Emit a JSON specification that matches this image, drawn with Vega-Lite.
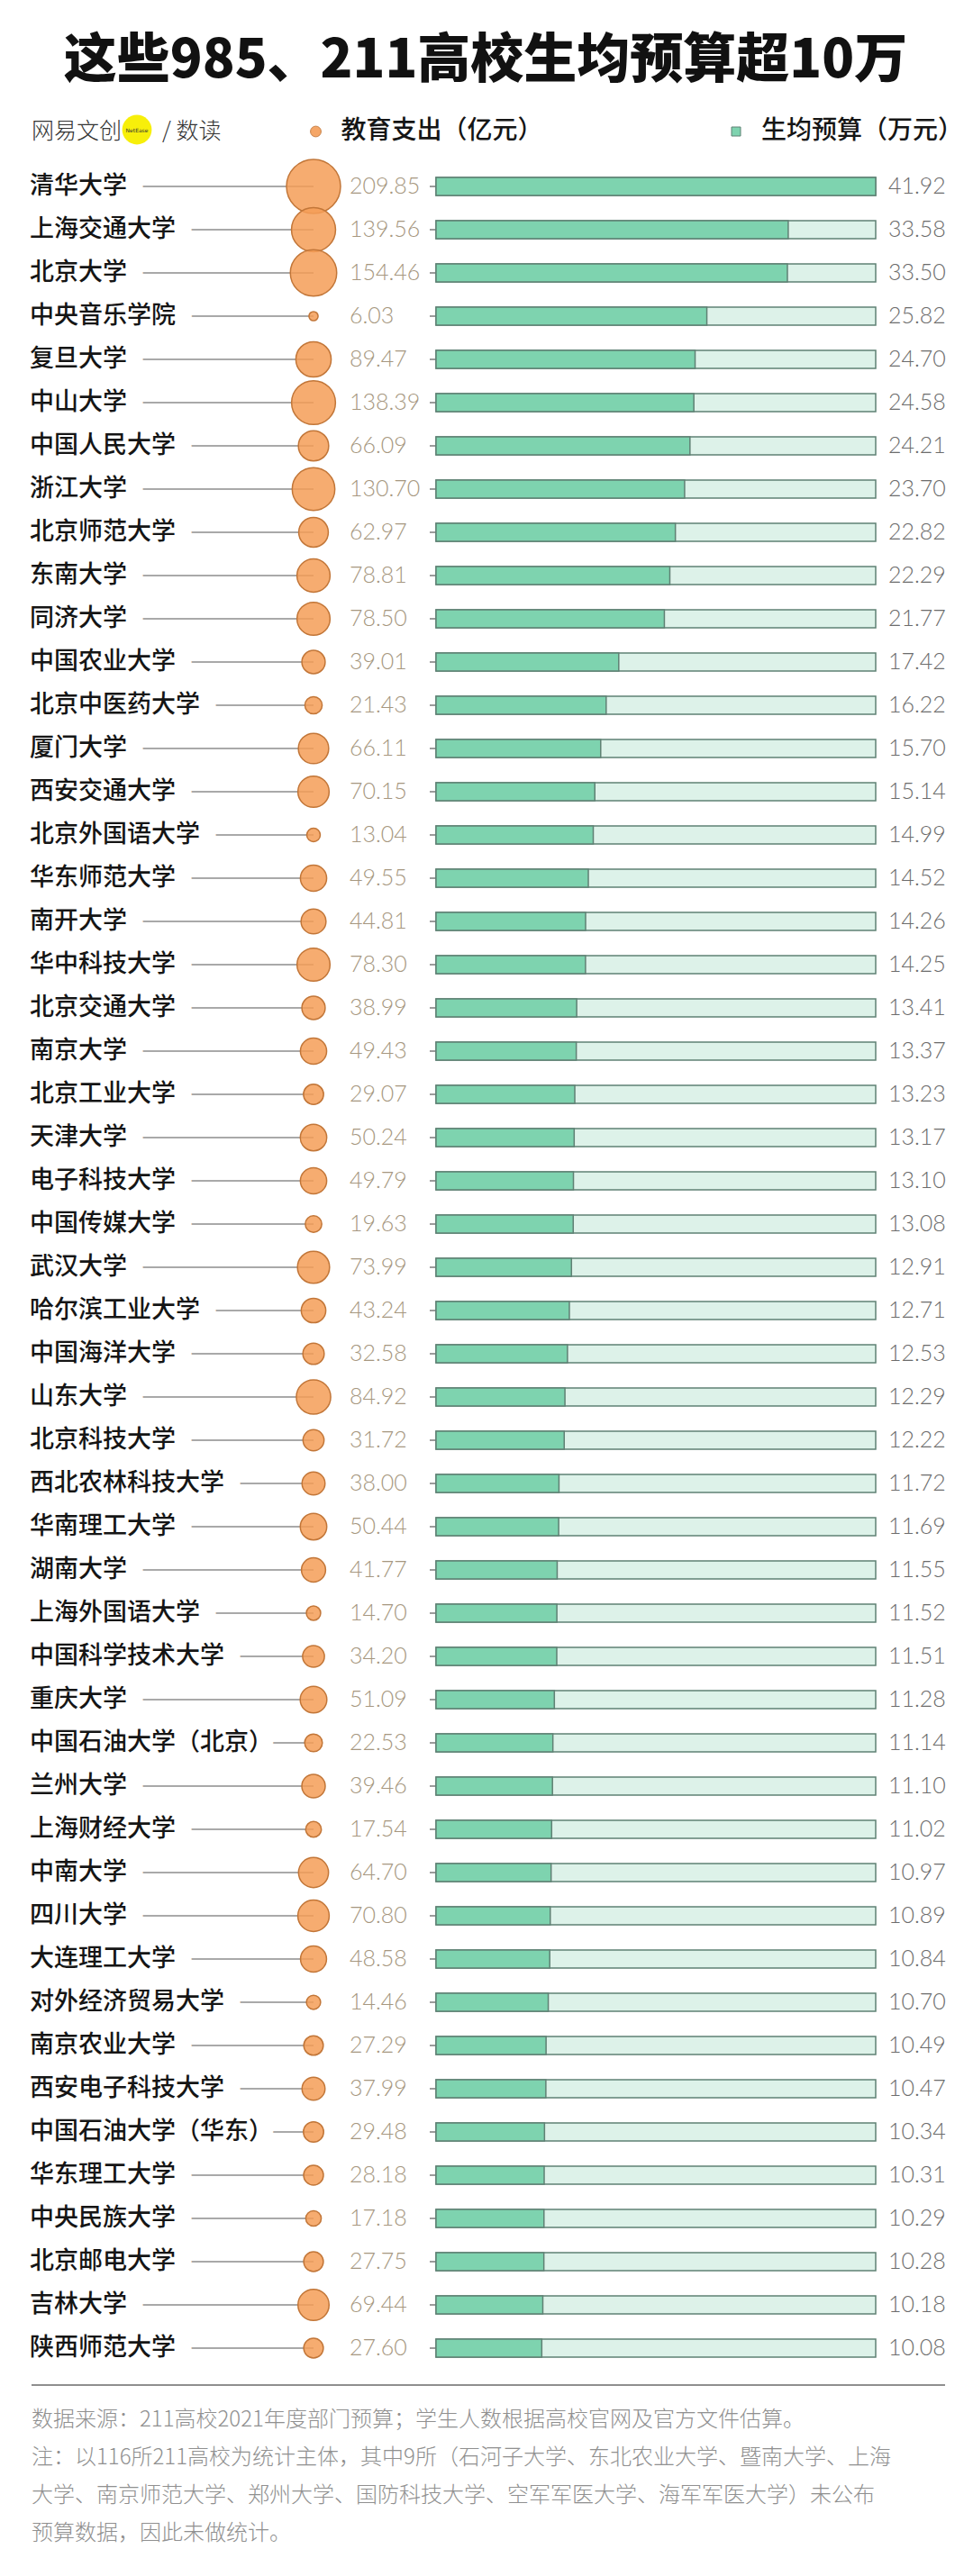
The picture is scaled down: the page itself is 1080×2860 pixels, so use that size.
{
  "$schema": "https://vega.github.io/schema/vega-lite/v6.json",
  "width": 1080,
  "height": 2860,
  "padding": 0,
  "autosize": {"type": "none"},
  "background": "#ffffff",
  "config": {"view": {"stroke": null}},
  "data": {"values": [
    {"name": "清华大学", "spend": 209.85, "budget": 41.92},
    {"name": "上海交通大学", "spend": 139.56, "budget": 33.58},
    {"name": "北京大学", "spend": 154.46, "budget": 33.50},
    {"name": "中央音乐学院", "spend": 6.03, "budget": 25.82},
    {"name": "复旦大学", "spend": 89.47, "budget": 24.70},
    {"name": "中山大学", "spend": 138.39, "budget": 24.58},
    {"name": "中国人民大学", "spend": 66.09, "budget": 24.21},
    {"name": "浙江大学", "spend": 130.70, "budget": 23.70},
    {"name": "北京师范大学", "spend": 62.97, "budget": 22.82},
    {"name": "东南大学", "spend": 78.81, "budget": 22.29},
    {"name": "同济大学", "spend": 78.50, "budget": 21.77},
    {"name": "中国农业大学", "spend": 39.01, "budget": 17.42},
    {"name": "北京中医药大学", "spend": 21.43, "budget": 16.22},
    {"name": "厦门大学", "spend": 66.11, "budget": 15.70},
    {"name": "西安交通大学", "spend": 70.15, "budget": 15.14},
    {"name": "北京外国语大学", "spend": 13.04, "budget": 14.99},
    {"name": "华东师范大学", "spend": 49.55, "budget": 14.52},
    {"name": "南开大学", "spend": 44.81, "budget": 14.26},
    {"name": "华中科技大学", "spend": 78.30, "budget": 14.25},
    {"name": "北京交通大学", "spend": 38.99, "budget": 13.41},
    {"name": "南京大学", "spend": 49.43, "budget": 13.37},
    {"name": "北京工业大学", "spend": 29.07, "budget": 13.23},
    {"name": "天津大学", "spend": 50.24, "budget": 13.17},
    {"name": "电子科技大学", "spend": 49.79, "budget": 13.10},
    {"name": "中国传媒大学", "spend": 19.63, "budget": 13.08},
    {"name": "武汉大学", "spend": 73.99, "budget": 12.91},
    {"name": "哈尔滨工业大学", "spend": 43.24, "budget": 12.71},
    {"name": "中国海洋大学", "spend": 32.58, "budget": 12.53},
    {"name": "山东大学", "spend": 84.92, "budget": 12.29},
    {"name": "北京科技大学", "spend": 31.72, "budget": 12.22},
    {"name": "西北农林科技大学", "spend": 38.00, "budget": 11.72},
    {"name": "华南理工大学", "spend": 50.44, "budget": 11.69},
    {"name": "湖南大学", "spend": 41.77, "budget": 11.55},
    {"name": "上海外国语大学", "spend": 14.70, "budget": 11.52},
    {"name": "中国科学技术大学", "spend": 34.20, "budget": 11.51},
    {"name": "重庆大学", "spend": 51.09, "budget": 11.28},
    {"name": "中国石油大学（北京）", "spend": 22.53, "budget": 11.14},
    {"name": "兰州大学", "spend": 39.46, "budget": 11.10},
    {"name": "上海财经大学", "spend": 17.54, "budget": 11.02},
    {"name": "中南大学", "spend": 64.70, "budget": 10.97},
    {"name": "四川大学", "spend": 70.80, "budget": 10.89},
    {"name": "大连理工大学", "spend": 48.58, "budget": 10.84},
    {"name": "对外经济贸易大学", "spend": 14.46, "budget": 10.70},
    {"name": "南京农业大学", "spend": 27.29, "budget": 10.49},
    {"name": "西安电子科技大学", "spend": 37.99, "budget": 10.47},
    {"name": "中国石油大学（华东）", "spend": 29.48, "budget": 10.34},
    {"name": "华东理工大学", "spend": 28.18, "budget": 10.31},
    {"name": "中央民族大学", "spend": 17.18, "budget": 10.29},
    {"name": "北京邮电大学", "spend": 27.75, "budget": 10.28},
    {"name": "吉林大学", "spend": 69.44, "budget": 10.18},
    {"name": "陕西师范大学", "spend": 27.60, "budget": 10.08}
  ]},
  "resolve": {"scale": {"fill": "independent"}, "legend": {"fill": "independent"}},
  "layer": [
    {
      "mark": {"type": "rule", "stroke": "#8c8c8c", "strokeWidth": 1.5},
      "encoding": {
        "x": {"value": 40},
        "x2": {"value": 348},
        "y": {"field": "name", "type": "nominal", "sort": null, "axis": null, "scale": {"type": "point", "range": [207, 2607], "padding": 0}}
      }
    },
    {
      "mark": {"type": "text", "align": "left", "baseline": "middle", "font": "Noto Sans CJK SC", "fontSize": 27, "fill": "#ffffff", "stroke": "#ffffff", "strokeWidth": 38, "strokeJoin": "round"},
      "encoding": {
        "x": {"value": 33},
        "y": {"field": "name", "type": "nominal", "sort": null},
        "text": {"field": "name"}
      }
    },
    {
      "mark": {"type": "text", "align": "left", "baseline": "middle", "font": "Noto Sans CJK SC", "fontSize": 27, "fontWeight": 500, "fill": "#151515"},
      "encoding": {
        "x": {"value": 33},
        "y": {"field": "name", "type": "nominal", "sort": null},
        "text": {"field": "name"}
      }
    },
    {
      "mark": {"type": "rule", "stroke": "#7a7a7a", "strokeWidth": 1.5},
      "encoding": {
        "x": {"value": 477},
        "x2": {"value": 485},
        "y": {"field": "name", "type": "nominal", "sort": null}
      }
    },
    {
      "mark": {"type": "bar", "height": 20, "fill": "#ddf2e9", "stroke": "#5f8174", "strokeWidth": 1.5},
      "encoding": {
        "x": {"datum": 0, "type": "quantitative", "axis": null, "scale": {"domain": [0, 41.92], "range": [484, 972]}},
        "x2": {"datum": 41.92},
        "y": {"field": "name", "type": "nominal", "sort": null}
      }
    },
    {
      "mark": {"type": "bar", "height": 20, "stroke": "#5f8174", "strokeWidth": 1.5, "fillOpacity": 1},
      "encoding": {
        "x": {"field": "budget", "type": "quantitative", "axis": null, "scale": {"domain": [0, 41.92], "range": [484, 972]}},
        "y": {"field": "name", "type": "nominal", "sort": null},
        "fill": {"datum": "生均预算（万元）", "scale": {"range": ["#7ed3af"]}, "legend": {"title": null, "orient": "none", "legendX": 803, "legendY": 132, "padding": 0, "symbolType": "square", "symbolSize": 100, "symbolStrokeColor": "#5f8174", "symbolStrokeWidth": 1, "labelOffset": 14, "labelFont": "Noto Sans CJK SC", "labelFontSize": 28, "labelFontWeight": 500, "labelColor": "#151515", "labelLimit": 500}}
      }
    },
    {
      "mark": {"type": "circle", "stroke": "#c27638", "strokeWidth": 1.5, "fillOpacity": 0.85, "opacity": 1},
      "encoding": {
        "x": {"value": 348},
        "y": {"field": "name", "type": "nominal", "sort": null},
        "size": {"field": "spend", "type": "quantitative", "legend": null, "scale": {"domain": [0, 209.85], "range": [0, 3600]}},
        "fill": {"datum": "教育支出（亿元）", "scale": {"range": ["#f59d57"]}, "legend": {"title": null, "orient": "none", "legendX": 336.5, "legendY": 132, "padding": 0, "symbolType": "circle", "symbolSize": 140, "symbolStrokeColor": "#c27638", "symbolStrokeWidth": 1, "symbolOpacity": 0.9, "labelOffset": 14, "labelFont": "Noto Sans CJK SC", "labelFontSize": 28, "labelFontWeight": 500, "labelColor": "#151515", "labelLimit": 500}}
      }
    },
    {
      "mark": {"type": "text", "align": "left", "baseline": "middle", "font": "Lato", "fontSize": 25, "fontWeight": 300, "fill": "#a69780"},
      "encoding": {
        "x": {"value": 388},
        "y": {"field": "name", "type": "nominal", "sort": null},
        "text": {"field": "spend", "type": "quantitative", "format": ".2f"}
      }
    },
    {
      "mark": {"type": "text", "align": "left", "baseline": "middle", "font": "Lato", "fontSize": 25, "fontWeight": 300, "fill": "#6c6c6c"},
      "encoding": {
        "x": {"value": 986},
        "y": {"field": "name", "type": "nominal", "sort": null},
        "text": {"field": "budget", "type": "quantitative", "format": ".2f"}
      }
    },
    {
      "data": {"values": [{"t": "这些985、211高校生均预算超10万"}]},
      "mark": {"type": "text", "align": "center", "baseline": "middle", "font": "Noto Sans CJK SC", "fontSize": 59, "fontWeight": 900, "fill": "#111111"},
      "encoding": {"x": {"value": 539}, "y": {"value": 68}, "text": {"field": "t"}}
    },
    {
      "data": {"values": [{}]},
      "mark": {"type": "circle", "fill": "#f7ef0a", "opacity": 1, "size": 1075},
      "encoding": {"x": {"value": 152}, "y": {"value": 144}}
    },
    {
      "data": {"values": [{"t": "网易文创"}]},
      "mark": {"type": "text", "align": "left", "baseline": "middle", "font": "Noto Sans CJK SC", "fontSize": 25, "fontWeight": 300, "fill": "#333333"},
      "encoding": {"x": {"value": 35}, "y": {"value": 146}, "text": {"field": "t"}}
    },
    {
      "data": {"values": [{"t": "NetEase"}]},
      "mark": {"type": "text", "align": "center", "baseline": "middle", "font": "DejaVu Sans", "fontSize": 6, "fill": "#333333"},
      "encoding": {"x": {"value": 152}, "y": {"value": 145}, "text": {"field": "t"}}
    },
    {
      "data": {"values": [{"t": "/ 数读"}]},
      "mark": {"type": "text", "align": "left", "baseline": "middle", "font": "Noto Sans CJK SC", "fontSize": 25, "fontWeight": 300, "fill": "#333333"},
      "encoding": {"x": {"value": 180}, "y": {"value": 146}, "text": {"field": "t"}}
    },
    {
      "data": {"values": [{}]},
      "mark": {"type": "rule", "stroke": "#8f8f8f", "strokeWidth": 2},
      "encoding": {"x": {"value": 35}, "x2": {"value": 1049}, "y": {"value": 2648}}
    },
    {
      "data": {"values": [{}]},
      "mark": {"type": "text", "align": "left", "baseline": "top", "font": "Noto Sans CJK SC", "fontSize": 24, "fontWeight": 300, "fill": "#909090", "lineHeight": 42,
        "text": ["数据来源：211高校2021年度部门预算；学生人数根据高校官网及官方文件估算。", "注：以116所211高校为统计主体，其中9所（石河子大学、东北农业大学、暨南大学、上海", "大学、南京师范大学、郑州大学、国防科技大学、空军军医大学、海军军医大学）未公布", "预算数据，因此未做统计。"]},
      "encoding": {"x": {"value": 35}, "y": {"value": 2675}}
    }
  ]
}
